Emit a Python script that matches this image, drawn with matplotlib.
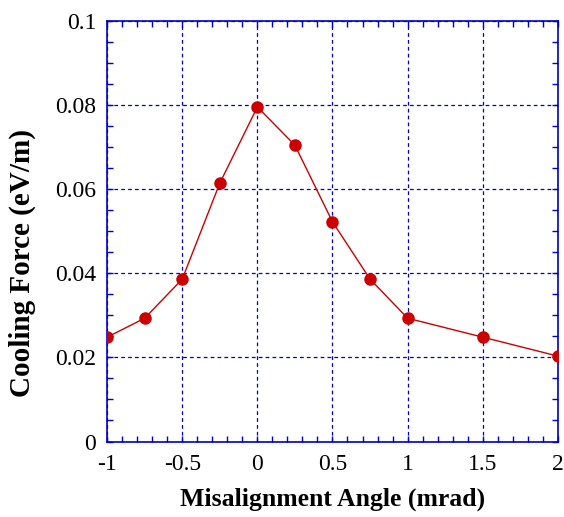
import matplotlib
matplotlib.use("Agg")
import matplotlib.pyplot as plt
from matplotlib.ticker import MultipleLocator

# misalignment angle (mrad) vs cooling force (eV/m)
angle = [-1, -0.75, -0.5, -0.25, 0, 0.25, 0.5, 0.75, 1, 1.5, 2]
force = [0.0248, 0.0293, 0.0386, 0.0614, 0.0795, 0.0704, 0.0522, 0.0386, 0.0293, 0.0248, 0.0203]

xticks = [-1, -0.5, 0, 0.5, 1, 1.5, 2]
xticklabels = ["-1", "-0.5", "0", "0.5", "1", "1.5", "2"]
yticks = [0, 0.02, 0.04, 0.06, 0.08, 0.1]
yticklabels = ["0", "0.02", "0.04", "0.06", "0.08", "0.1"]

plt.rcParams['font.family'] = ['Liberation Serif', 'DejaVu Serif']

fig = plt.figure(figsize=(5.64, 5.17), dpi=100)
ax = fig.add_axes((0.19, 0.146, 0.799, 0.814))

blue = "#0000cc"
ax.plot(angle, force, color="#cc0000", lw=1, marker="o", ms=8,
        markerfacecolor="#cc0000", markeredgecolor="#cc0000", zorder=3)

ax.set_xlim(-1, 2)
ax.set_ylim(0, 0.1)
ax.set_xticks(xticks, labels=xticklabels, fontsize=17)
ax.set_yticks(yticks, labels=yticklabels, fontsize=17)
ax.xaxis.set_minor_locator(MultipleLocator(0.1))
ax.yaxis.set_minor_locator(MultipleLocator(0.005))

ax.tick_params(which="both", direction="in", top=True, right=True, color=blue,
               length=4.5, width=1)
ax.tick_params(axis="x", which="major", pad=9)
ax.tick_params(axis="y", which="major", pad=8)

for s in ax.spines.values():
    s.set_color(blue)
    s.set_linewidth(1.2)

ax.grid(True, which="major", color=blue, ls=(0, (3, 2.5)), lw=0.9)

ax.set_xlabel("Misalignment Angle (mrad)", fontsize=18.5, fontweight="bold", labelpad=9)
ax.set_ylabel("Cooling Force (eV/m)", fontsize=21, fontweight="bold")
# label sits a bit below the axes centre in the original
ax.yaxis.set_label_coords(-0.157, 0.425)

fig.savefig("out.png", dpi=100)
